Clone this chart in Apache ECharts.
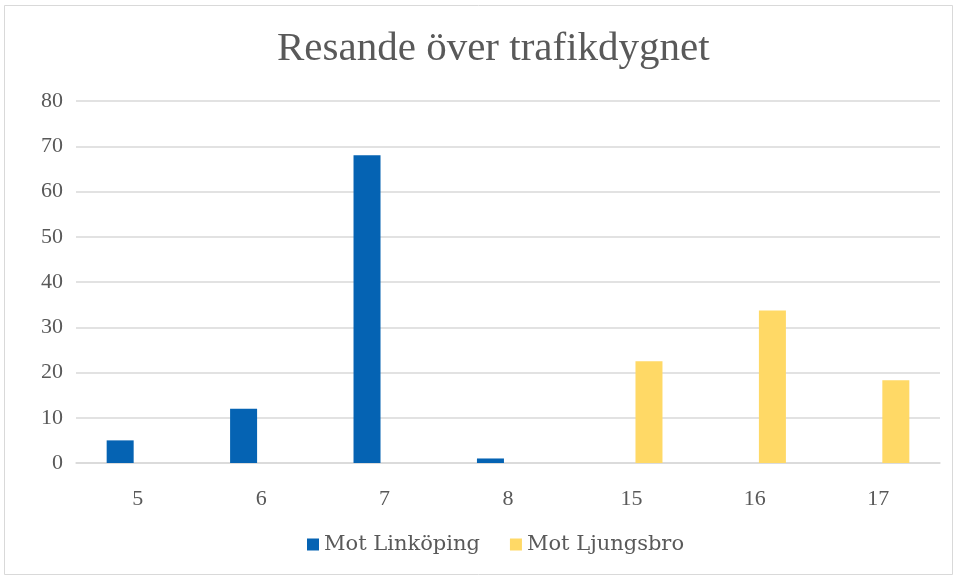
<!DOCTYPE html>
<html>
<head>
<meta charset="utf-8">
<script src="https://cdn.jsdelivr.net/npm/echarts@6/dist/echarts.min.js"></script>
<style>
  html, body { margin: 0; padding: 0; background: #fff; }
  #main { width: 957px; height: 579px; }
</style>
</head>
<body>
<div id="main"></div>
<script>
// data
var hours = ['5', '6', '7', '8', '15', '16', '17'];
var motLinkoping = [5, 12, 68, 1, 0, 0, 0];
var motLjungsbro = [0, 0, 0, 0, 22.5, 33.7, 18.3];

var font = 'Liberation Serif';
var textColor = '#595959';

var myChart = echarts.init(document.getElementById('main'));

var option = {
    backgroundColor: '#fff',
    animation: false,
    title: {
        text: 'Resande över trafikdygnet',
        left: 272,
        top: 24,
        textStyle: { fontFamily: font, fontSize: 41, fontWeight: 'normal', color: textColor }
    },
    graphic: [{
        type: 'rect',
        shape: { x: 4.5, y: 5.5, width: 948, height: 569 },
        style: { fill: 'none', stroke: '#d9d9d9', lineWidth: 1 },
        silent: true
    }],
    legend: {
        bottom: 19,
        left: 302,
        itemWidth: 12,
        itemHeight: 12,
        itemGap: 30,
        icon: 'rect',
        textStyle: { fontFamily: 'DejaVu Serif', fontSize: 21, color: textColor }
    },
    grid: {
        left: 76,
        right: 17,
        top: 101,
        bottom: 116,
        containLabel: false
    },
    xAxis: {
        type: 'category',
        data: hours,
        axisLine: { lineStyle: { color: '#d9d9d9', width: 1.5 } },
        axisTick: { show: false },
        axisLabel: { fontFamily: font, fontSize: 22, color: textColor, margin: 25 }
    },
    yAxis: {
        type: 'value',
        min: 0,
        max: 80,
        interval: 10,
        axisLine: { show: false },
        axisTick: { show: false },
        splitLine: { lineStyle: { color: '#d9d9d9', width: 1.5 } },
        axisLabel: { fontFamily: font, fontSize: 22, color: textColor, margin: 13 }
    },
    series: [
        {
            name: 'Mot Linköping',
            type: 'bar',
            data: motLinkoping,
            barWidth: 27,
            barGap: '30%',
            itemStyle: { color: '#0563b3' }
        },
        {
            name: 'Mot Ljungsbro',
            type: 'bar',
            data: motLjungsbro,
            barWidth: 27,
            itemStyle: { color: '#ffd966' }
        }
    ]
};

myChart.setOption(option);
</script>
</body>
</html>
